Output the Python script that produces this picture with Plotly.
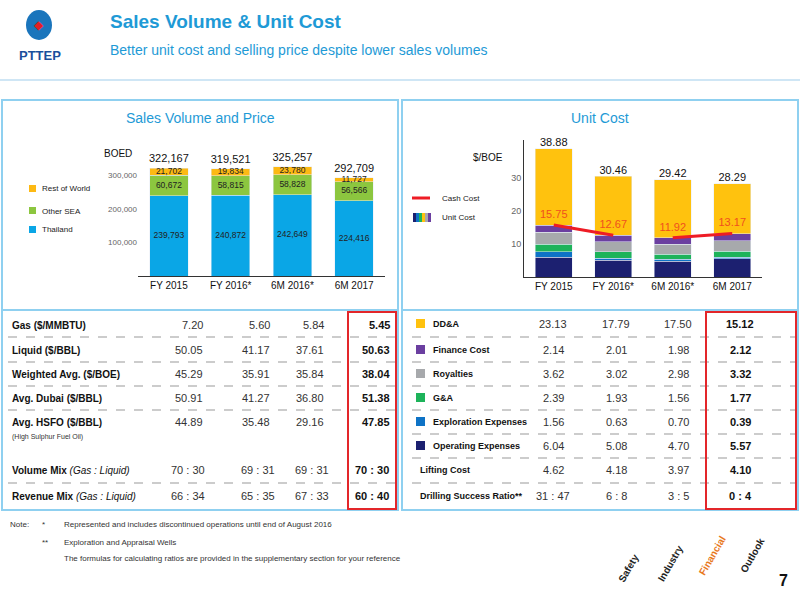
import plotly.graph_objects as go

cats = ["FY 2015", "FY 2016*", "6M 2016*", "6M 2017"]
thailand = [239793, 240872, 242649, 224416]
other_sea = [60672, 58815, 58828, 56566]
rest_world = [21702, 19834, 23780, 11727]
vol_total = [322167, 319521, 325257, 292709]

opex = [6.04, 5.08, 4.70, 5.57]
explo = [1.56, 0.63, 0.70, 0.39]
gna = [2.39, 1.93, 1.56, 1.77]
royal = [3.62, 3.02, 2.98, 3.32]
fin = [2.14, 2.01, 1.98, 2.12]
dda = [23.13, 17.79, 17.50, 15.12]
unit_total = [38.88, 30.46, 29.42, 28.29]
cash_cost = [15.75, 12.67, 11.92, 13.17]

left_rows = ["Gas ($/MMBTU)", "Liquid ($/BBL)", "Weighted Avg. ($/BOE)", "Avg. Dubai ($/BBL)", "Avg. HSFO ($/BBL)"]
left_vals = [["7.20", "5.60", "5.84", "5.45"], ["50.05", "41.17", "37.61", "50.63"],
             ["45.29", "35.91", "35.84", "38.04"], ["50.91", "41.27", "36.80", "51.38"],
             ["44.89", "35.48", "29.16", "47.85"]]
mix_rows = ["Volume Mix", "Revenue Mix"]
mix_vals = [["70 : 30", "69 : 31", "69 : 31", "70 : 30"], ["66 : 34", "65 : 35", "67 : 33", "60 : 40"]]
right_rows = ["DD&A", "Finance Cost", "Royalties", "G&A", "Exploration Expenses", "Operating Expenses", "Lifting Cost", "Drilling Success Ratio**"]
right_vals = [["23.13", "17.79", "17.50", "15.12"], ["2.14", "2.01", "1.98", "2.12"], ["3.62", "3.02", "2.98", "3.32"],
              ["2.39", "1.93", "1.56", "1.77"], ["1.56", "0.63", "0.70", "0.39"], ["6.04", "5.08", "4.70", "5.57"],
              ["4.62", "4.18", "3.97", "4.10"], ["31 : 47", "6 : 8", "3 : 5", "0 : 4"]]

C_TH, C_SEA, C_ROW = "#0aa6e6", "#8cc63f", "#fdb913"
UC = ["#1c2070", "#0e73c6", "#1db35a", "#a7a9ac", "#6b3fa0", "#ffc20e"]
FONT = "Liberation Sans"

def X(px): return px / 800
def Y(py): return 1 - py / 600

fig = go.Figure()
base = [0, 0, 0, 0]
for name, vals, col in [("Thailand", thailand, C_TH), ("Other SEA", other_sea, C_SEA), ("Rest of World", rest_world, C_ROW)]:
    fig.add_bar(x=cats, y=vals, marker_color=col, width=0.62, xaxis="x", yaxis="y", showlegend=False)
    mids = [b + v / 2 for b, v in zip(base, vals)]
    fig.add_scatter(x=cats, y=mids, mode="text", text=[f"{v:,}" for v in vals], textfont=dict(size=8.5, color="#222"),
                    xaxis="x", yaxis="y", showlegend=False, cliponaxis=False)
    base = [b + v for b, v in zip(base, vals)]
fig.add_scatter(x=cats, y=[t + 10000 for t in vol_total], mode="text", text=[f"{v:,}" for v in vol_total], textposition="top center",
                textfont=dict(size=11, color="#111"), xaxis="x", yaxis="y", showlegend=False, cliponaxis=False)

for vals, col in zip([opex, explo, gna, royal, fin, dda], UC):
    fig.add_bar(x=cats, y=vals, marker_color=col, width=0.62, xaxis="x2", yaxis="y2", showlegend=False)
fig.add_scatter(x=cats, y=unit_total, mode="text", text=[f"{v:.2f}" for v in unit_total], textposition="top center",
                textfont=dict(size=11, color="#111"), xaxis="x2", yaxis="y2", showlegend=False, cliponaxis=False)
fig.add_scatter(x=[cats[0], cats[1], None, cats[2], cats[3]], y=[cash_cost[0], cash_cost[1], None, cash_cost[2], cash_cost[3]],
                mode="lines", line=dict(color="#ee1c25", width=3), xaxis="x2", yaxis="y2", showlegend=False, connectgaps=False)
fig.add_scatter(x=cats, y=[c + 3.0 for c in cash_cost], mode="text", text=[f"{v:.2f}" for v in cash_cost],
                textfont=dict(size=11, color="#f0501e"), xaxis="x2", yaxis="y2", showlegend=False, cliponaxis=False)

fig.update_layout(
    width=800, height=600, margin=dict(l=0, r=0, t=0, b=0), barmode="stack", bargap=0.38,
    paper_bgcolor="white", plot_bgcolor="white", font=dict(family=FONT, color="#333"),
    xaxis=dict(domain=[X(138), X(385)], anchor="y", showline=True, linecolor="#333", ticks="",
               tickfont=dict(size=10, color="#111")),
    yaxis=dict(domain=[Y(276), Y(156)], range=[0, 358000], anchor="x", showgrid=False, showline=False, tickvals=[100000, 200000, 300000],
               ticktext=["100,000", "200,000", "300,000"], tickfont=dict(size=8, color="#666"), zeroline=False),
    xaxis2=dict(domain=[X(524), X(762)], anchor="y2", showline=True, linecolor="#333", ticks="",
                tickfont=dict(size=10, color="#111")),
    yaxis2=dict(domain=[Y(277), Y(140)], range=[0, 41.5], anchor="x2", showgrid=False, showline=True, linecolor="#333",
                tickvals=[10, 20, 30], tickfont=dict(size=9, color="#666"), zeroline=False),
)

ann, shp = [], []
def T(px, py, text, size=10, color="#222", xa="left", bold=False, ya="middle", angle=0):
    if bold: text = f"<b>{text}</b>"
    ann.append(dict(x=X(px), y=Y(py), xref="paper", yref="paper", text=text, showarrow=False, xanchor=xa, yanchor=ya,
                    font=dict(size=size, color=color, family=FONT), textangle=angle))
def R(x0, y0, x1, y1, line=None, fill=None, w=1, dash=None):
    shp.append(dict(type="rect", xref="paper", yref="paper", x0=X(x0), x1=X(x1), y0=Y(y0), y1=Y(y1),
                    line=dict(color=line or "rgba(0,0,0,0)", width=w if line else 0, dash=dash), fillcolor=fill or "rgba(0,0,0,0)"))
def L(x0, y0, x1, y1, col="#999", w=1, dash=None):
    shp.append(dict(type="line", xref="paper", yref="paper", x0=X(x0), x1=X(x1), y0=Y(y0), y1=Y(y1),
                    line=dict(color=col, width=w, dash=dash)))

# header
shp.append(dict(type="circle", xref="paper", yref="paper", x0=X(26), x1=X(52), y0=Y(40), y1=Y(10), fillcolor="#1a75bc", line=dict(width=0)))
T(39, 25, "◆", 12, "#e21f26", "center")
T(40, 55, "PTTEP", 13, "#1a4f9c", "center", True)
T(108, 22, "Sales Volume &amp; Unit Cost", 19, "#1e9ad6", bold=True)
T(108, 50, "Better unit cost and selling price despite lower sales volumes", 14, "#1e9ad6")
L(0, 80, 800, 80, "#cfe6f5", 2)
R(2, 100, 398, 510, "#8fd0f0", None, 2)
R(402, 100, 798, 510, "#8fd0f0", None, 2)
L(2, 310, 398, 310, "#8fd0f0", 2); L(402, 310, 798, 310, "#8fd0f0", 2)
T(200, 118, "Sales Volume and Price", 14, "#1e9ad6", "center")
T(600, 118, "Unit Cost", 14, "#1e9ad6", "center")
T(118, 153, "BOED", 10, "#111", "center")
T(488, 157, "$/BOE", 10, "#111", "center")
for py, name, col in [(189, "Rest of World", C_ROW), (211, "Other SEA", C_SEA), (230, "Thailand", C_TH)]:
    R(29, py - 4, 36, py + 3, None, col)
    T(40, py, name, 8, "#222")
L(412, 198, 430, 198, "#ee1c25", 3)
T(440, 198, "Cash Cost", 8)
for i, c in enumerate(["#1c2070", "#0e73c6", "#1db35a", "#ffc20e", "#a7a9ac", "#6b3fa0"]):
    R(413 + i * 3, 213, 416 + i * 3, 222, None, c)
T(440, 218, "Unit Cost", 8)

# left table
rows_y = [325, 350, 374, 398, 422]
colx = [205, 272, 326]
for ry, lab, vals in zip(rows_y, left_rows, left_vals):
    T(10, ry, lab, 10, "#111", bold=True)
    for cx, v in zip(colx, vals[:3]): T(cx, ry, v, 11, "#333", "right")
    T(392, ry, vals[3], 11, "#111", "right", True)
T(10, 437, "(High Sulphur Fuel Oil)", 7, "#333")
for i, (ry, lab, vals) in enumerate(zip([470, 496], mix_rows, mix_vals)):
    T(10, ry, f"<b>{lab}</b> <i>(Gas : Liquid)</i>", 10, "#111")
    for cx, v in zip([188, 258, 312], vals[:3]): T(cx, ry, v, 11, "#333", "center")
    T(372, ry, vals[3], 11, "#111", "center", True)
for ly in [337, 362, 386, 410, 483]:
    L(8, ly, 396, ly, "#999", 1, "dash")
R(348, 312, 396, 509, "#e3262a", None, 2)

# right table
ry_r = [324, 350, 374, 398, 422, 446, 470, 496]
sq = ["#ffc20e", "#6b3fa0", "#a7a9ac", "#1db35a", "#0e73c6", "#1c2070"]
for i, (ry, lab, vals) in enumerate(zip(ry_r, right_rows, right_vals)):
    if i < 6:
        R(416, ry - 5, 425, ry + 4, None, sq[i])
        T(431, ry, lab, 9, "#111", bold=True)
    else:
        T(418, ry, lab, 9, "#111", bold=True)
    for cx, v in zip([553, 616, 678], vals[:3]): T(cx, ry, v, 11, "#333", "center")
    T(740, ry, vals[3], 11, "#111", "center", True)
for ly in [337, 362, 386, 410, 434, 458, 483]:
    L(412, ly, 796, ly, "#999", 1, "dash")
R(706, 312, 796, 509, "#e3262a", None, 2)

# notes
T(8, 524, "Note:", 8, "#333"); T(40, 524, "*", 8, "#333")
T(62, 524, "Represented and includes discontinued operations until end of August 2016", 8, "#333")
T(40, 542, "**", 8, "#333"); T(62, 542, "Exploration and Appraisal Wells", 8, "#333")
T(62, 558, "The formulas for calculating ratios are provided in the supplementary section for your reference", 8, "#333")

# side tabs
for px, py, lab, col in [(628, 568, "Safety", "#222"), (670, 563, "Industry", "#222"), (712, 555, "Financial", "#e8791e"), (752, 555, "Outlook", "#222")]:
    T(px, py, lab, 10, col, "center", True, angle=-60)
T(783, 580, "7", 16, "#111", "center", True)

fig.update_layout(annotations=ann, shapes=shp)
fig.write_html("out.html", config={"displayModeBar": False},
               post_script="document.body.style.margin='0';document.body.style.overflow='hidden';")
